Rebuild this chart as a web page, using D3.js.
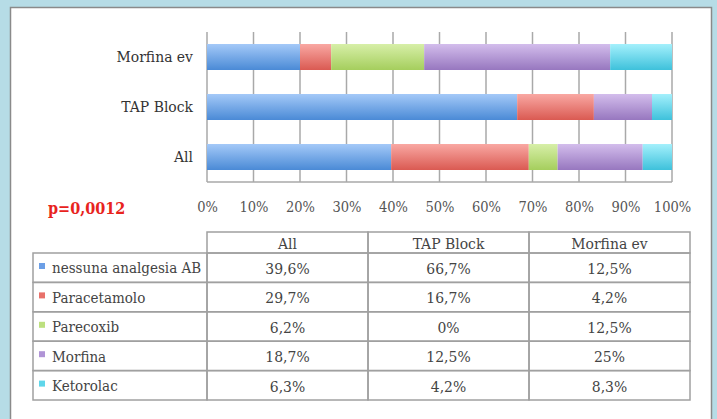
<!DOCTYPE html>
<html lang="en">
<head>
    <meta charset="UTF-8">
    <title>Analgesia</title>
    <script src="https://cdn.jsdelivr.net/npm/d3@7"></script>
    <style>
        body { margin: 0; background: #b6dce6; }
        svg { display: block; }
    </style>
</head>
<body>
<script>

    /******* DATA *******/
    const groups = ["Morfina ev", "TAP Block", "All"];
    const tableGroups = ["All", "TAP Block", "Morfina ev"];
    const series = ["nessuna analgesia AB", "Paracetamolo", "Parecoxib", "Morfina", "Ketorolac"];
    // bar segments (percent)
    const barAll = [39.6, 29.6, 6.2, 18.3, 6.3];
    const barTap = [66.7, 16.5, 0, 12.5, 4.3];
    const barMorfina = [20.0, 6.7, 20.0, 40.0, 13.3];
    // table text
    const tabAll = ["39,6%", "29,7%", "6,2%", "18,7%", "6,3%"];
    const tabTap = ["66,7%", "16,7%", "0%", "12,5%", "4,2%"];
    const tabMorfina = ["12,5%", "4,2%", "12,5%", "25%", "8,3%"];
    const xTicks = [0, 10, 20, 30, 40, 50, 60, 70, 80, 90, 100];
    const pValue = "p=0,0012";

    /******* STYLING *******/
    const width = 717, height = 419;
    const serif = "'DejaVu Serif Condensed', 'DejaVu Serif', serif";
    const colorsTop = ["#a4c9f8", "#f9a8a3", "#d7efa8", "#d3bdec", "#a4f0fc"];
    const colorsBot = ["#4a8ad6", "#da5a52", "#a5ce5d", "#9777bf", "#3ec1db"];
    const colorsMid = ["#6c9fe6", "#e8716a", "#bde07f", "#b094d6", "#5fd6ea"];

    const svg = d3.select("body").append("svg")
        .attr("width", width)
        .attr("height", height)
        .style("font-family", serif);

    // white panel
    svg.append("rect")
        .attr("x", 10.5).attr("y", 7.5)
        .attr("width", 701).attr("height", 420)
        .attr("fill", "#fff")
        .attr("stroke", "#8a8a8a")
        .attr("stroke-width", 1.5);

    // gradients
    const defs = svg.append("defs");
    series.forEach((s, i) => {
        const g = defs.append("linearGradient")
            .attr("id", "grad" + i)
            .attr("x1", 0).attr("y1", 0).attr("x2", 0).attr("y2", 1);
        g.append("stop").attr("offset", "0%").attr("stop-color", colorsTop[i]);
        g.append("stop").attr("offset", "100%").attr("stop-color", colorsBot[i]);
    });

    /******* BAR CHART *******/
    const plot = { left: 207, right: 672, top: 32, bottom: 182 };

    const xScale = d3.scaleLinear()
        .domain([0, 100])
        .range([plot.left, plot.right]);
    const yScale = d3.scaleBand()
        .domain(groups)
        .range([plot.top, plot.bottom])
        .paddingInner(0.48)
        .paddingOuter(0.24);

    // gridlines
    svg.append("g")
        .selectAll("line")
        .data(xTicks)
        .join("line")
        .attr("x1", d => xScale(d)).attr("x2", d => xScale(d))
        .attr("y1", plot.top).attr("y2", plot.bottom)
        .attr("stroke", "#a9a9a9")
        .attr("stroke-width", 1.5);
    svg.append("line")
        .attr("x1", plot.left).attr("x2", plot.right)
        .attr("y1", plot.bottom).attr("y2", plot.bottom)
        .attr("stroke", "#a9a9a9")
        .attr("stroke-width", 1.5);

    // stacked bars
    const rows = [
        Object.fromEntries([["group", "All"], ...series.map((s, i) => [s, barAll[i]])]),
        Object.fromEntries([["group", "TAP Block"], ...series.map((s, i) => [s, barTap[i]])]),
        Object.fromEntries([["group", "Morfina ev"], ...series.map((s, i) => [s, barMorfina[i]])])
    ];
    const stacked = d3.stack().keys(series)(rows);

    svg.append("g")
        .selectAll("g")
        .data(stacked)
        .join("g")
        .attr("fill", (d, i) => `url(#grad${i})`)
        .selectAll("rect")
        .data(d => d)
        .join("rect")
        .attr("x", d => xScale(d[0]))
        .attr("width", d => xScale(d[1]) - xScale(d[0]))
        .attr("y", d => yScale(d.data.group))
        .attr("height", yScale.bandwidth());

    // category labels
    svg.append("g")
        .selectAll("text")
        .data(groups)
        .join("text")
        .attr("x", plot.left - 14)
        .attr("y", d => yScale(d) + yScale.bandwidth() / 2)
        .attr("dy", "0.35em")
        .attr("text-anchor", "end")
        .style("font-size", "15.5px")
        .attr("fill", "#333")
        .text(d => d);

    // x axis labels
    const xAxis = d3.axisBottom(xScale)
        .tickValues(xTicks)
        .tickFormat(d => d + "%")
        .tickSize(0)
        .tickPadding(0);
    const gx = svg.append("g")
        .attr("transform", `translate(0,${plot.bottom + 20})`)
        .call(xAxis);
    gx.select(".domain").remove();
    gx.selectAll("text")
        .style("font-family", serif)
        .style("font-size", "14.5px")
        .attr("fill", "#555");

    // p value
    svg.append("text")
        .attr("x", 48).attr("y", 214)
        .style("font-size", "16px")
        .style("font-weight", "bold")
        .attr("fill", "#e8231d")
        .text(pValue);

    /******* TABLE *******/
    const tab = { labelLeft: 33, left: 207, right: 690, headTop: 232, top: 253, bottom: 400 };
    const colScale = d3.scaleBand()
        .domain(tableGroups)
        .range([tab.left, tab.right]);
    const rowScale = d3.scaleBand()
        .domain(series)
        .range([tab.top, tab.bottom]);
    const tableCols = { "All": tabAll, "TAP Block": tabTap, "Morfina ev": tabMorfina };

    const table = svg.append("g");
    const stroke = "#a0a0a0";

    // header cells
    table.selectAll(".head")
        .data(tableGroups)
        .join("rect")
        .attr("class", "head")
        .attr("x", d => colScale(d)).attr("y", tab.headTop)
        .attr("width", colScale.bandwidth()).attr("height", tab.top - tab.headTop)
        .attr("fill", "none").attr("stroke", stroke).attr("stroke-width", 1.5);
    table.selectAll(".headText")
        .data(tableGroups)
        .join("text")
        .attr("class", "headText")
        .attr("x", d => colScale(d) + colScale.bandwidth() / 2)
        .attr("y", tab.top - 4)
        .attr("text-anchor", "middle")
        .style("font-size", "15.5px")
        .attr("fill", "#444")
        .text(d => d);

    // body rows
    const bodyRows = table.selectAll(".row")
        .data(series)
        .join("g")
        .attr("class", "row");
    bodyRows.append("rect")
        .attr("x", tab.labelLeft).attr("y", d => rowScale(d))
        .attr("width", tab.left - tab.labelLeft).attr("height", rowScale.bandwidth())
        .attr("fill", "none").attr("stroke", stroke).attr("stroke-width", 1.5);
    bodyRows.append("rect")
        .attr("x", tab.labelLeft + 6).attr("y", d => rowScale(d) + 10)
        .attr("width", 6).attr("height", 6)
        .attr("fill", (d, i) => colorsMid[i]);
    bodyRows.append("text")
        .attr("x", tab.labelLeft + 19)
        .attr("y", d => rowScale(d) + rowScale.bandwidth() / 2)
        .attr("dy", "0.38em")
        .style("font-size", "15px")
        .attr("fill", "#444")
        .text(d => d);

    tableGroups.forEach(g => {
        bodyRows.append("rect")
            .attr("x", colScale(g)).attr("y", d => rowScale(d))
            .attr("width", colScale.bandwidth()).attr("height", rowScale.bandwidth())
            .attr("fill", "none").attr("stroke", stroke).attr("stroke-width", 1.5);
        bodyRows.append("text")
            .attr("x", colScale(g) + colScale.bandwidth() / 2)
            .attr("y", d => rowScale(d) + rowScale.bandwidth() / 2)
            .attr("dy", "0.4em")
            .attr("text-anchor", "middle")
            .style("font-size", "15.5px")
            .attr("fill", "#444")
            .text((d, i) => tableCols[g][i]);
    });

</script>
</body>
</html>
